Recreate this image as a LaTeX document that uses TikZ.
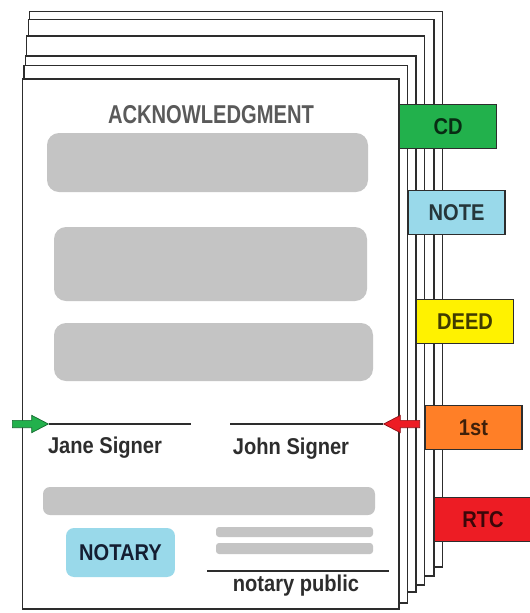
\documentclass[tikz,border=0pt]{standalone}
\usepackage{fontspec}
\setmainfont{Liberation Sans}
\newfontfamily\tabfont[FakeStretch=0.88]{Liberation Sans}
\newfontfamily\headfont[FakeStretch=0.78]{Liberation Sans}
\usepackage{tikz}
\usetikzlibrary{shapes.arrows}
\usepackage{xcolor}
\definecolor{paintgreen}{RGB}{34,177,76}
\definecolor{paintblue}{RGB}{153,217,234}
\definecolor{paintyellow}{RGB}{255,242,0}
\definecolor{paintorange}{RGB}{255,127,39}
\definecolor{paintred}{RGB}{237,28,36}
\definecolor{bargray}{RGB}{196,196,196}
\definecolor{inkgray}{RGB}{45,45,45}
\definecolor{headgray}{RGB}{90,90,90}
\definecolor{notaryink}{RGB}{20,30,50}
\tikzset{
  page/.style={draw=inkgray, line width=0.75pt, fill=white},
  tab/.style={
    rectangle, draw=inkgray, line width=0.6pt, fill=#1,
    text=#1!25!black, anchor=north west,
    minimum width=1.94cm, minimum height=0.88cm, inner sep=0pt,
    font=\tabfont\fontsize{13}{15}\selectfont\bfseries
  },
  bar/.style={fill=bargray, rounded corners=0.24cm},
  thinbar/.style={fill=bargray, rounded corners=0.06cm},
  sigline/.style={draw=inkgray, line width=0.6pt},
  signame/.style={
    anchor=base, text=inkgray, inner sep=0pt,
    font=\tabfont\fontsize{13}{15}\selectfont\bfseries
  },
  headlabel/.style={
    anchor=base, text=headgray, inner sep=0pt,
    font=\headfont\fontsize{14.7}{17}\selectfont\bfseries
  },
  stamp/.style={
    rectangle, rounded corners=0.16cm, fill=paintblue, text=notaryink,
    minimum width=2.18cm, minimum height=0.98cm,
    font=\tabfont\fontsize{13}{15}\selectfont\bfseries
  },
  sigarrow/.style={
    single arrow, fill=#1, draw=#1!60!black, line width=0.4pt,
    minimum height=0.72cm, minimum width=0.33cm,
    inner xsep=0pt, inner ysep=0.066cm,
    single arrow tip angle=55, single arrow head extend=0.1cm
  }
}

\begin{document}
\begin{tikzpicture}[x=0.02cm, y=-0.02cm]
\useasboundingbox (0,0) rectangle (530,613);

% Stack of pages, back to front
\draw[page] (29.3,11.7) rectangle (442.5,567);
\draw[page] (28.3,19.3) rectangle (434,576);
\node[tab=paintred] (rtc) at (434,497) {RTC};
\draw[page] (26.7,36) rectangle (424.5,585);
\node[tab=paintorange] (first) at (424.5,405) {1st};
\draw[page] (25.7,56) rectangle (416,592);
\node[tab=paintyellow] (deed) at (416,299) {DEED};
\draw[page] (24,65.7) rectangle (407.5,603);
\node[tab=paintblue] (note) at (407.5,190) {NOTE};
\draw[page] (22.7,79) rectangle (399,609);
\node[tab=paintgreen] (cd) at (399,104) {CD};

% Front page: heading and text blocks
\node[headlabel] (ackhead) at (211,123) {ACKNOWLEDGMENT};
\fill[bar] (47,133) rectangle (368,192);
\fill[bar] (54,227) rectangle (367,301);
\fill[bar] (54,323) rectangle (373,381);

% Signature lines
\node[sigarrow=paintgreen, anchor=tail] (janearrow) at (12,424) {};
\coordinate (janeend) at (191,424);
\draw[sigline] (janearrow.tip) -- (janeend);
\node[sigarrow=paintred, shape border rotate=180, anchor=tail]
  (johnarrow) at (420,424) {};
\coordinate (johnstart) at (230,424);
\draw[sigline] (johnstart) -- (johnarrow.tip);
\node[signame] (jane) at (105,453) {Jane Signer};
\node[signame] (john) at (291,454) {John Signer};

% Notary block
\fill[bar, rounded corners=0.14cm] (43,487) rectangle (375,515);
\node[stamp] (notary) at (120.5,552.5) {NOTARY};
\fill[thinbar] (216,527) rectangle (373,537);
\fill[thinbar] (216,543) rectangle (373,554);
\coordinate (publeft) at (207,571);
\coordinate (pubright) at (389,571);
\draw[sigline] (publeft) -- (pubright);
\node[signame] (public) at (296,591) {notary public};

\end{tikzpicture}
\end{document}
